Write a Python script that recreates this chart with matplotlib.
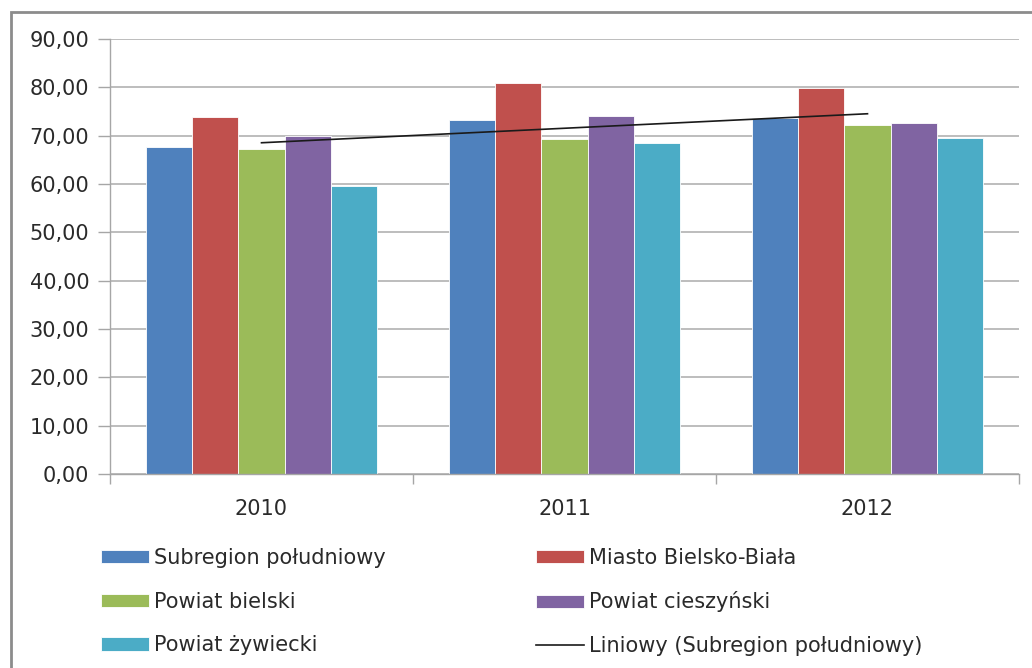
import matplotlib
matplotlib.use("Agg")
import matplotlib.pyplot as plt
import numpy as np
from matplotlib.patches import Rectangle, Patch
from matplotlib.lines import Line2D

# ── data ─────────────────────────────────────────────────────────────────────
years = ["2010", "2011", "2012"]
series_names = [
    "Subregion południowy",
    "Miasto Bielsko-Biała",
    "Powiat bielski",
    "Powiat cieszyński",
    "Powiat żywiecki",
]
subregion = [67.7, 73.2, 73.7]
bielsko_biala = [73.9, 80.8, 79.9]
bielski = [67.2, 69.3, 72.2]
cieszynski = [69.9, 74.1, 72.6]
zywiecki = [59.6, 68.5, 69.5]
trend_label = "Liniowy (Subregion południowy)"

colors = ["#4F81BD", "#C0504D", "#9BBB59", "#8064A2", "#4BACC6"]

plt.rcParams["font.family"] = ["DejaVu Sans"]

fig = plt.figure(figsize=(10.32, 6.68), dpi=100)
ax = fig.add_axes([110 / 1032, 1 - 474 / 668, 909 / 1032, 435 / 668])

x = np.arange(len(years))
width = 0.153
all_series = [subregion, bielsko_biala, bielski, cieszynski, zywiecki]
handles = []
for i, (vals, col, name) in enumerate(zip(all_series, colors, series_names)):
    offs = (i - 2) * width
    ax.bar(x + offs, vals, width, color=col, edgecolor="white",
           linewidth=0.6, zorder=2)
    handles.append(Patch(facecolor=col, edgecolor="white", linewidth=0.6, label=name))

# linear trend of the subregion series
coef = np.polyfit(x, subregion, 1)
ax.plot(x, np.polyval(coef, x), color="#1a1a1a", lw=1.2, zorder=3)
trend_handle = Line2D([], [], color="#1a1a1a", lw=1.2, label=trend_label)

# ── axes styling ─────────────────────────────────────────────────────────────
ax.set_xlim(-0.5, 2.5)
ax.set_ylim(0, 90)
ax.set_yticks(np.arange(0, 91, 10))
ax.set_yticklabels([f"{v:.2f}".replace(".", ",") for v in np.arange(0, 91, 10)])
ax.yaxis.grid(True, color="#ababab", lw=1.1, zorder=0)
ax.set_axisbelow(True)

ax.set_xticks(x)
ax.set_xticklabels(years)
ax.set_xticks([-0.5, 0.5, 1.5, 2.5], minor=True)
ax.tick_params(axis="x", which="major", length=0, pad=18, labelsize=15, colors="#2a2a2a")
ax.tick_params(axis="x", which="minor", length=7, width=1, color="#a6a6a6", direction="out")
ax.tick_params(axis="y", length=9, width=1, color="#a6a6a6", labelsize=15,
               labelcolor="#2a2a2a", pad=6)

for side in ["top", "right"]:
    ax.spines[side].set_visible(False)
for side in ["left", "bottom"]:
    ax.spines[side].set_color("#a6a6a6")
    ax.spines[side].set_linewidth(1)

# ── legend ───────────────────────────────────────────────────────────────────
order = [handles[0], handles[2], handles[4], handles[1], handles[3], trend_handle]
fig.legend(handles=order, loc="upper left", bbox_to_anchor=(82 / 1032, 1 - 529 / 668),
           ncol=2, frameon=False, fontsize=15, handlelength=2.3, handleheight=0.6,
           handletextpad=0.25, labelspacing=1.14, columnspacing=7.2,
           labelcolor="#2a2a2a")

# ── outer border ─────────────────────────────────────────────────────────────
fig.patches.append(Rectangle((11 / 1032, -0.1), 1.2, 1 - 12 / 668 + 0.1,
                             transform=fig.transFigure, fill=False,
                             edgecolor="#8c8c8c", lw=2))

fig.savefig("out.png", dpi=100, facecolor="white")
